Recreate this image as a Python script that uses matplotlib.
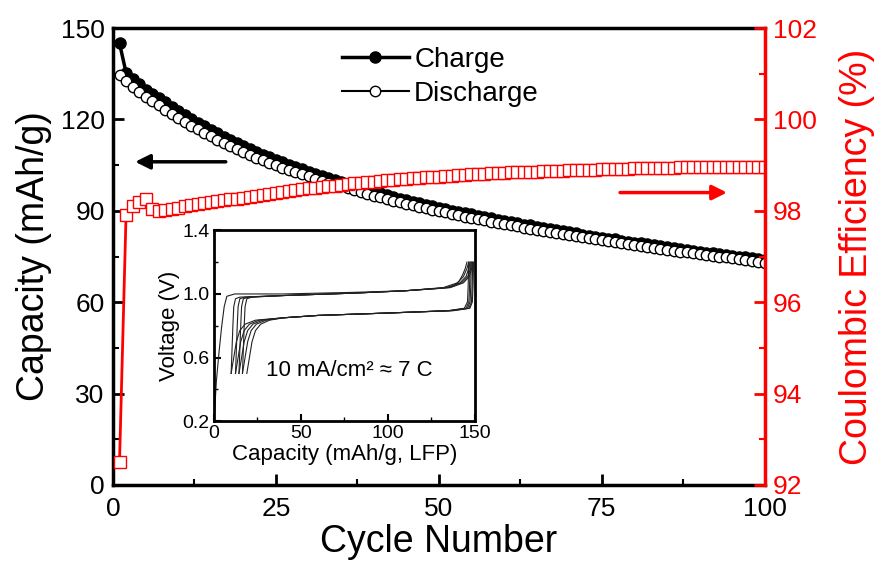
import matplotlib
matplotlib.use("Agg")
import matplotlib.pyplot as plt
from matplotlib.ticker import MultipleLocator

plt.rcParams['font.family'] = ['Liberation Sans', 'DejaVu Sans']
plt.rcParams['mathtext.fontset'] = 'custom'
plt.rcParams['mathtext.rm'] = 'Liberation Sans'

# ---------------- data ----------------
cycles = list(range(1, 101))

discharge = [134.5, 132.6, 130.8, 129.1, 127.5, 126.0, 124.6, 123.2, 121.8, 120.5,
             119.2, 118.0, 116.8, 115.6, 114.5, 113.4, 112.3, 111.3, 110.3, 109.3,
             108.4, 107.5, 106.6, 105.8, 105.0, 104.2, 103.5, 102.7, 102.0, 101.3,
             100.6, 99.9, 99.3, 98.6, 98.0, 97.4, 96.8, 96.2, 95.6, 95.0,
             94.4, 93.9, 93.3, 92.8, 92.3, 91.8, 91.3, 90.8, 90.4, 89.9,
             89.5, 89.0, 88.6, 88.1, 87.7, 87.3, 86.9, 86.5, 86.1, 85.7,
             85.3, 84.9, 84.5, 84.2, 83.8, 83.4, 83.1, 82.7, 82.4, 82.0,
             81.7, 81.3, 81.0, 80.6, 80.3, 80.0, 79.7, 79.3, 79.0, 78.7,
             78.4, 78.1, 77.8, 77.5, 77.2, 76.9, 76.6, 76.4, 76.1, 75.8,
             75.5, 75.3, 75.0, 74.7, 74.4, 74.1, 73.9, 73.6, 73.3, 73.0]

charge = [145.0, 135.4, 133.3, 131.5, 129.8, 128.5, 127.1, 125.7, 124.2, 122.9,
          121.6, 120.3, 119.0, 117.8, 116.7, 115.5, 114.4, 113.3, 112.3, 111.2,
          110.3, 109.3, 108.4, 107.6, 106.7, 105.9, 105.1, 104.3, 103.6, 102.8,
          102.1, 101.4, 100.8, 100.1, 99.4, 98.8, 98.2, 97.6, 97.0, 96.3,
          95.7, 95.2, 94.6, 94.0, 93.5, 93.0, 92.5, 92.0, 91.5, 91.0,
          90.6, 90.1, 89.7, 89.2, 88.8, 88.4, 88.0, 87.6, 87.1, 86.7,
          86.3, 85.9, 85.5, 85.2, 84.8, 84.4, 84.1, 83.6, 83.3, 82.9,
          82.6, 82.2, 81.9, 81.5, 81.2, 80.9, 80.6, 80.2, 79.9, 79.6,
          79.3, 79.0, 78.7, 78.4, 78.1, 77.8, 77.5, 77.2, 76.9, 76.6,
          76.3, 76.1, 75.8, 75.5, 75.2, 74.9, 74.7, 74.4, 74.1, 73.8]

efficiency = [92.5, 97.9, 98.1, 98.2, 98.25, 98.05, 98.0, 98.02, 98.05, 98.07,
              98.1, 98.12, 98.14, 98.17, 98.19, 98.21, 98.23, 98.25, 98.27, 98.29,
              98.31, 98.33, 98.35, 98.37, 98.39, 98.41, 98.43, 98.45, 98.47, 98.49,
              98.50, 98.52, 98.54, 98.55, 98.57, 98.58, 98.60, 98.61, 98.63, 98.64,
              98.65, 98.67, 98.68, 98.69, 98.70, 98.71, 98.72, 98.73, 98.74, 98.75,
              98.76, 98.77, 98.78, 98.79, 98.80, 98.80, 98.81, 98.82, 98.83, 98.83,
              98.84, 98.85, 98.85, 98.86, 98.86, 98.87, 98.87, 98.88, 98.88, 98.89,
              98.89, 98.90, 98.90, 98.90, 98.91, 98.91, 98.92, 98.92, 98.92, 98.93,
              98.93, 98.93, 98.94, 98.94, 98.94, 98.94, 98.95, 98.95, 98.95, 98.95,
              98.95, 98.96, 98.96, 98.96, 98.96, 98.96, 98.97, 98.97, 98.97, 98.97]

x_ticks = [0, 25, 50, 75, 100]
y_ticks = [0, 30, 60, 90, 120, 150]
ce_ticks = [92, 94, 96, 98, 100, 102]

# inset voltage profiles (capacity mAh/g, voltage V)
ch1_cap = [0.3, 1.5, 3, 4.5, 6, 7.5, 12, 40, 80, 110, 130, 138, 141, 143, 144.5, 145.5]
ch1_v = [0.22, 0.45, 0.63, 0.79, 0.92, 0.985, 1.0, 1.0, 1.01, 1.02, 1.035, 1.05, 1.08, 1.12, 1.16, 1.2]
ch_v = [0.5, 0.65, 0.8, 0.92, 0.97, 0.98, 0.99, 1.005, 1.02, 1.04, 1.07, 1.11, 1.16, 1.2]
ch2_cap = [10, 10.5, 11, 11.5, 12.5, 15, 40, 80, 110, 132, 140, 143.5, 145.5, 146.5]
ch3_cap = [12.5, 13, 13.5, 14, 15, 18, 40, 80, 110, 134, 141.5, 145, 146.5, 147.3]
ch4_cap = [14.5, 15, 15.5, 16, 17, 20, 40, 80, 110, 135, 142.5, 146, 147.5, 148]
ch5_cap = [16.5, 17, 17.5, 18, 19, 22, 40, 80, 110, 136, 143.5, 146.8, 148.2, 148.8]
dis_v = [1.2, 1.05, 0.95, 0.91, 0.895, 0.88, 0.865, 0.85, 0.835, 0.81, 0.77, 0.7, 0.6, 0.5]
dis1_cap = [146.5, 146.2, 145.8, 144, 135, 100, 60, 40, 24, 18, 15, 13, 11.5, 10]
dis2_cap = [147.3, 147.0, 146.6, 145, 135, 100, 60, 40, 26, 20.5, 17.5, 15.5, 14, 12.5]
dis3_cap = [148, 147.7, 147.3, 145.8, 136, 100, 60, 40, 28, 22.5, 19.5, 17.5, 16, 14.5]
dis4_cap = [148.8, 148.5, 148.1, 146.6, 137, 100, 60, 40, 30, 24.5, 21.5, 19.5, 18, 16.5]
dis5_cap = [149.3, 149.0, 148.6, 147.2, 138, 100, 60, 40, 32, 27, 24, 22, 20.5, 19]

# ---------------- figure ----------------
fig = plt.figure(figsize=(8.76, 5.73), dpi=100)
ax = fig.add_axes([0.129, 0.1536, 0.744, 0.7974])
ax2 = ax.twinx()

l_ch, = ax.plot(cycles, charge, '-o', color='black', mfc='black', mec='black',
                ms=8, lw=2.5, label='Charge', zorder=2)
l_dis, = ax.plot(cycles, discharge, '-o', color='black', mfc='white', mec='black',
                 ms=7.5, mew=1.0, lw=1.5, label='Discharge', zorder=3)

ax2.plot(cycles, efficiency, '-s', color='red', mfc='white', mec='red',
         ms=8, mew=1.0, lw=2)

ax.set_xlim(0, 100)
ax.set_ylim(0, 150)
ax.set_xticks(x_ticks)
ax.set_yticks(y_ticks)
ax.xaxis.set_minor_locator(MultipleLocator(12.5))
ax.yaxis.set_minor_locator(MultipleLocator(15))
ax.tick_params(which='major', direction='in', length=8, width=2, labelsize=19, pad=6)
ax.tick_params(axis='x', which='major', pad=9)
ax.tick_params(which='minor', direction='in', length=4, width=1.5)
ax.set_xlabel('Cycle Number', fontsize=27, labelpad=2)
ax.set_ylabel('Capacity (mAh/g)', fontsize=27, labelpad=6)

ax2.set_ylim(92, 102)
ax2.set_yticks(ce_ticks)
ax2.yaxis.set_minor_locator(MultipleLocator(1))
ax2.tick_params(which='major', direction='in', length=8, width=2, labelsize=19,
                colors='red', pad=6)
ax2.tick_params(which='minor', direction='in', length=4, width=1.5, colors='red')
ax2.set_ylabel('Coulombic Efficiency (%)', fontsize=27, color='red', labelpad=16)

for s in ['left', 'bottom', 'top']:
    ax.spines[s].set_linewidth(2.5)
ax.spines['right'].set_visible(False)
for s in ['left', 'bottom', 'top']:
    ax2.spines[s].set_visible(False)
ax2.spines['right'].set_color('red')
ax2.spines['right'].set_linewidth(2.5)

# arrows
ax.annotate('', xy=(3.4, 106.1), xytext=(17.3, 106.1),
            arrowprops=dict(arrowstyle='-|>', color='black', lw=2.5,
                            mutation_scale=22, shrinkA=0, shrinkB=0))
ax2.annotate('', xy=(94.2, 98.4), xytext=(77.8, 98.4),
             arrowprops=dict(arrowstyle='-|>', color='red', lw=2.5,
                             mutation_scale=22, shrinkA=0, shrinkB=0))

ax.legend(handles=[l_ch, l_dis], loc='upper left', bbox_to_anchor=(0.33, 0.99),
          frameon=False, fontsize=20, handlelength=2.4, handletextpad=0.2,
          labelspacing=0.3, borderpad=0)

# inset
ins = fig.add_axes([0.244, 0.265, 0.298, 0.333])
ins.set_zorder(5)
ins.patch.set_facecolor('white')
for cap, v in [(ch1_cap, ch1_v), (ch2_cap, ch_v), (ch3_cap, ch_v), (ch4_cap, ch_v),
               (ch5_cap, ch_v), (dis1_cap, dis_v), (dis2_cap, dis_v), (dis3_cap, dis_v),
               (dis4_cap, dis_v), (dis5_cap, dis_v)]:
    ins.plot(cap, v, '-', color='#222222', lw=0.8)
ins.set_xlim(0, 150)
ins.set_ylim(0.2, 1.4)
ins.set_xticks([0, 50, 100, 150])
ins.set_yticks([0.2, 0.6, 1.0, 1.4])
ins.xaxis.set_minor_locator(MultipleLocator(25))
ins.yaxis.set_minor_locator(MultipleLocator(0.2))
ins.tick_params(which='major', direction='in', length=5, width=1.5, labelsize=14, pad=3)
ins.tick_params(which='minor', direction='in', length=3, width=1)
for s in ins.spines.values():
    s.set_linewidth(2)
ins.set_xlabel('Capacity (mAh/g, LFP)', fontsize=16, labelpad=1)
ins.set_ylabel('Voltage (V)', fontsize=16, labelpad=2)
ins.text(78, 0.52, '10 mA/cm² ≈ 7 C', fontsize=16, ha='center', va='center')

fig.savefig('out.png', dpi=100)
